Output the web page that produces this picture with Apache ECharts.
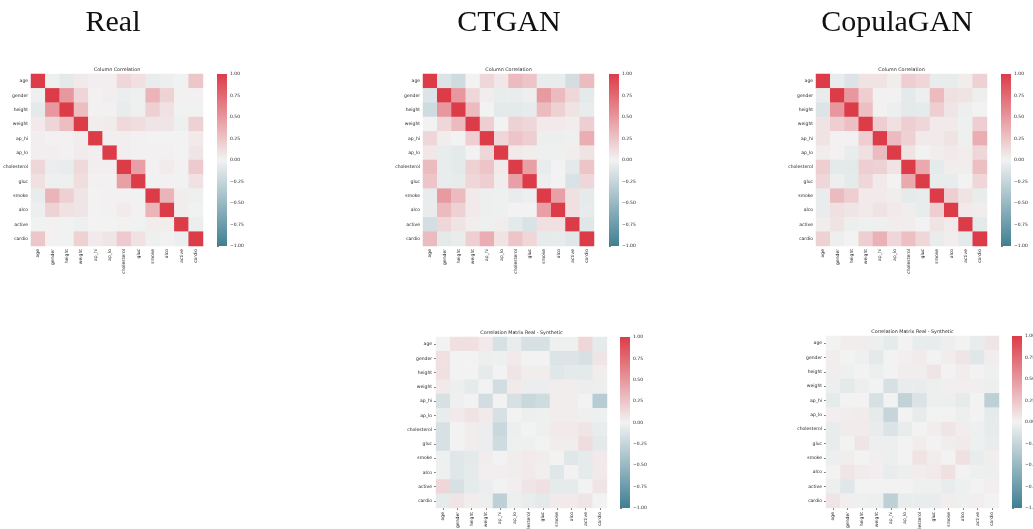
<!DOCTYPE html>
<html>
<head>
<meta charset="utf-8">
<script src="https://cdn.jsdelivr.net/npm/echarts@6/dist/echarts.min.js"></script>
<style>
  html, body { margin: 0; padding: 0; background: #ffffff; }
  #chart { width: 1033px; height: 529px; }
</style>
</head>
<body>
<div id="chart"></div>
<script>
// Feature names of the cardio dataset
const features = ['age', 'gender', 'height', 'weight', 'ap_hi', 'ap_lo',
  'cholesterol', 'gluc', 'smoke', 'alco', 'active', 'cardio'];

const colorbarTicks = [-1, -0.75, -0.5, -0.25, 0, 0.25, 0.5, 0.75, 1];

// Correlations of the real data
const realCorr = [
  [ 1.00, -0.02, -0.08,  0.05,  0.02,  0.02,  0.15,  0.10, -0.05, -0.03, -0.01,  0.24],
  [-0.02,  1.00,  0.50,  0.16,  0.01,  0.02, -0.04, -0.02,  0.34,  0.17,  0.01,  0.01],
  [-0.08,  0.50,  1.00,  0.29,  0.01,  0.01, -0.05, -0.02,  0.19,  0.09, -0.01, -0.01],
  [ 0.05,  0.16,  0.29,  1.00,  0.03,  0.04,  0.14,  0.11,  0.07,  0.07, -0.02,  0.18],
  [ 0.02,  0.01,  0.01,  0.03,  1.00,  0.02,  0.02,  0.01,  0.00,  0.00,  0.00,  0.05],
  [ 0.02,  0.02,  0.01,  0.04,  0.02,  1.00,  0.02,  0.01,  0.01,  0.01,  0.00,  0.07],
  [ 0.15, -0.04, -0.05,  0.14,  0.02,  0.02,  1.00,  0.45,  0.01,  0.04,  0.01,  0.22],
  [ 0.10, -0.02, -0.02,  0.11,  0.01,  0.01,  0.45,  1.00, -0.01,  0.01, -0.01,  0.09],
  [-0.05,  0.34,  0.19,  0.07,  0.00,  0.01,  0.01, -0.01,  1.00,  0.34,  0.03, -0.02],
  [-0.03,  0.17,  0.09,  0.07,  0.00,  0.01,  0.04,  0.01,  0.34,  1.00,  0.03, -0.01],
  [-0.01,  0.01, -0.01, -0.02,  0.00,  0.00,  0.01, -0.01,  0.03,  0.03,  1.00, -0.04],
  [ 0.24,  0.01, -0.01,  0.18,  0.05,  0.07,  0.22,  0.09, -0.02, -0.01, -0.04,  1.00]
];

// Correlations of the CTGAN synthetic data
const ctganCorr = [
  [ 1.00, -0.12, -0.20,  0.00,  0.15,  0.06,  0.30,  0.25, -0.05, -0.05, -0.17,  0.30],
  [-0.12,  1.00,  0.50,  0.15,  0.03, -0.05, -0.05, -0.03,  0.48,  0.30,  0.15, -0.08],
  [-0.20,  0.50,  1.00,  0.30,  0.00, -0.08, -0.08, -0.06,  0.30,  0.18,  0.08, -0.05],
  [ 0.00,  0.15,  0.30,  1.00,  0.20,  0.00,  0.18,  0.15,  0.05,  0.05,  0.03,  0.20],
  [ 0.15,  0.03,  0.00,  0.20,  1.00,  0.15,  0.25,  0.20, -0.03, -0.03, -0.02,  0.38],
  [ 0.06, -0.05, -0.08,  0.00,  0.15,  1.00,  0.05,  0.03, -0.02, -0.02,  0.03,  0.08],
  [ 0.30, -0.05, -0.08,  0.18,  0.25,  0.05,  1.00,  0.45, -0.05,  0.00, -0.08,  0.25],
  [ 0.25, -0.05, -0.06,  0.15,  0.20,  0.03,  0.45,  1.00, -0.03,  0.00, -0.14,  0.15],
  [-0.05,  0.48,  0.30,  0.05, -0.03, -0.02, -0.05, -0.03,  1.00,  0.45,  0.10, -0.07],
  [-0.05,  0.30,  0.18,  0.05, -0.03, -0.02,  0.00,  0.00,  0.45,  1.00,  0.10, -0.06],
  [-0.17,  0.15,  0.08,  0.03, -0.02,  0.03, -0.08, -0.14,  0.10,  0.10,  1.00, -0.10],
  [ 0.30, -0.08, -0.05,  0.20,  0.38,  0.08,  0.25,  0.15, -0.07, -0.06, -0.10,  1.00]
];

// Correlations of the CopulaGAN synthetic data
const copulaCorr = [
  [ 1.00, -0.05, -0.12,  0.08,  0.08,  0.03,  0.20,  0.15, -0.05, -0.05,  0.03,  0.18],
  [-0.05,  1.00,  0.50,  0.20,  0.01,  0.01, -0.08, -0.03,  0.30,  0.10,  0.08, -0.03],
  [-0.12,  0.50,  1.00,  0.28,  0.01, -0.03, -0.08, -0.07,  0.20,  0.07, -0.03,  0.00],
  [ 0.08,  0.20,  0.28,  1.00,  0.20,  0.10,  0.20,  0.15,  0.05,  0.05, -0.02,  0.20],
  [ 0.08,  0.01,  0.01,  0.20,  1.00,  0.30,  0.18,  0.05,  0.05,  0.08, -0.02,  0.38],
  [ 0.03,  0.01, -0.05,  0.10,  0.30,  1.00,  0.08,  0.00,  0.03,  0.05,  0.03,  0.15],
  [ 0.20, -0.08, -0.08,  0.20,  0.18,  0.08,  1.00,  0.40, -0.07,  0.03,  0.03,  0.28],
  [ 0.15, -0.03, -0.07,  0.15,  0.05,  0.00,  0.40,  1.00, -0.05, -0.05,  0.00,  0.15],
  [-0.05,  0.30,  0.20,  0.05,  0.05,  0.03, -0.07, -0.05,  1.00,  0.20,  0.08, -0.05],
  [-0.05,  0.10,  0.07,  0.05,  0.08,  0.05,  0.03, -0.05,  0.20,  1.00,  0.05,  0.03],
  [ 0.03,  0.08, -0.03, -0.02, -0.02,  0.03,  0.03,  0.00,  0.08,  0.05,  1.00, -0.08],
  [ 0.18, -0.03,  0.00,  0.20,  0.35,  0.15,  0.28,  0.15, -0.05,  0.03, -0.08,  1.00]
];

// Real minus CTGAN correlations
const ctganDiff = [
  [ 0.00,  0.10,  0.10,  0.05, -0.15, -0.05, -0.15, -0.15, -0.02, -0.02,  0.15, -0.07],
  [ 0.10,  0.00,  0.00, -0.03, -0.02,  0.05,  0.00,  0.00, -0.12, -0.12, -0.15,  0.07],
  [ 0.10,  0.00,  0.00, -0.07,  0.00,  0.07,  0.03,  0.03, -0.10, -0.08, -0.08,  0.03],
  [ 0.05, -0.03, -0.07,  0.00, -0.18,  0.05, -0.04, -0.04,  0.03,  0.03, -0.04, -0.03],
  [-0.15, -0.02,  0.00, -0.18,  0.00, -0.15, -0.23, -0.20,  0.03,  0.03,  0.00, -0.33],
  [-0.05,  0.05,  0.08,  0.05, -0.15,  0.00, -0.03, -0.02,  0.03,  0.03, -0.02, -0.02],
  [-0.15,  0.00,  0.03, -0.04, -0.23, -0.03,  0.00, -0.02,  0.05,  0.05,  0.07, -0.05],
  [-0.15,  0.00,  0.03, -0.04, -0.20, -0.02, -0.02,  0.00,  0.03,  0.03,  0.12, -0.08],
  [-0.02, -0.10, -0.08,  0.03,  0.00,  0.03,  0.05,  0.03,  0.00, -0.10, -0.07,  0.05],
  [-0.02, -0.10, -0.07,  0.02,  0.02,  0.03,  0.05,  0.02, -0.10,  0.00, -0.07,  0.05],
  [ 0.15, -0.15, -0.07, -0.04,  0.00,  0.02,  0.07,  0.10, -0.07, -0.07,  0.00,  0.07],
  [-0.07,  0.07,  0.03, -0.03, -0.30, -0.03, -0.05, -0.08,  0.05,  0.05,  0.07,  0.00]
];

// Real minus CopulaGAN correlations
const copulaDiff = [
  [ 0.00,  0.03,  0.03, -0.03, -0.07,  0.00, -0.05, -0.05, -0.03,  0.00, -0.05,  0.07],
  [ 0.03,  0.00, -0.02, -0.08,  0.00,  0.02,  0.04,  0.00,  0.03,  0.07, -0.10,  0.03],
  [ 0.03, -0.02,  0.00, -0.03,  0.00,  0.03,  0.03,  0.07,  0.00,  0.03,  0.00, -0.02],
  [-0.03, -0.08, -0.03,  0.00, -0.15, -0.05, -0.05, -0.03,  0.02,  0.02,  0.02, -0.03],
  [-0.07,  0.00,  0.00, -0.15,  0.00, -0.27, -0.13, -0.03, -0.03, -0.07,  0.00, -0.30],
  [ 0.02,  0.03,  0.04, -0.07, -0.25,  0.00, -0.06,  0.00,  0.00, -0.03,  0.00, -0.07],
  [-0.05,  0.04,  0.04, -0.05, -0.13, -0.05,  0.00,  0.03,  0.07,  0.03, -0.02, -0.06],
  [-0.05,  0.00,  0.07, -0.03, -0.03,  0.00,  0.03,  0.00,  0.03,  0.05, -0.02, -0.05],
  [-0.03,  0.03,  0.00,  0.02, -0.03,  0.00,  0.08,  0.03,  0.00,  0.10, -0.05,  0.03],
  [ 0.00,  0.07,  0.04,  0.02, -0.05, -0.03,  0.03,  0.05,  0.10,  0.00, -0.02, -0.03],
  [-0.03, -0.10,  0.00,  0.00,  0.00,  0.00, -0.02, -0.02, -0.05, -0.02,  0.00,  0.02],
  [ 0.07,  0.02, -0.02, -0.03, -0.30, -0.05, -0.05, -0.05,  0.03, -0.02,  0.02,  0.00]
];

const COLOR_NEG = '#3f7f93';
const COLOR_MID = '#f2f2f2';
const COLOR_POS = '#dc3c48';
const TEXT_COLOR = '#262626';
const LABEL_FONT = 'DejaVu Sans';

// Panel layout: heatmap box and colorbar box for each matrix
const panels = [
  { title: 'Column Correlation', data: realCorr,  grid: { left: 31,  top: 74,  width: 172, height: 172 }, bar: { left: 217,  top: 74,  width: 10, height: 172 }, ticks: false },
  { title: 'Column Correlation', data: ctganCorr, grid: { left: 423, top: 74,  width: 171, height: 172 }, bar: { left: 609,  top: 74,  width: 10, height: 172 }, ticks: false },
  { title: 'Column Correlation', data: copulaCorr, grid: { left: 816, top: 74, width: 171, height: 172 }, bar: { left: 1001, top: 74,  width: 10, height: 172 }, ticks: false },
  { title: 'Correlation Matrix Real - Synthetic', data: ctganDiff,  grid: { left: 436, top: 337, width: 171, height: 171 }, bar: { left: 620,  top: 337, width: 10, height: 171 }, ticks: true },
  { title: 'Correlation Matrix Real - Synthetic', data: copulaDiff, grid: { left: 826, top: 336, width: 173, height: 172 }, bar: { left: 1012, top: 336, width: 10, height: 172 }, ticks: true }
];

const headings = [
  { text: 'Real', x: 113 },
  { text: 'CTGAN', x: 509 },
  { text: 'CopulaGAN', x: 897 }
];

function toCells(matrix) {
  const cells = [];
  matrix.forEach((row, r) => row.forEach((v, c) => cells.push([c, r, v])));
  return cells;
}

function fmtTick(v) {
  const s = Math.abs(v).toFixed(2);
  return v < 0 ? '\u2212' + s : s;
}

const grids = [], xAxes = [], yAxes = [], series = [], graphics = [];

panels.forEach((p, i) => {
  grids.push(Object.assign({ containLabel: false, outerBoundsMode: 'none' }, p.grid));
  xAxes.push({
    type: 'category', gridIndex: i, data: features, position: 'bottom',
    axisLine: { show: false },
    axisTick: { show: p.ticks, length: 2, alignWithLabel: true, lineStyle: { color: TEXT_COLOR, width: 0.6 } },
    axisLabel: { rotate: 90, interval: 0, fontSize: 4.5, color: TEXT_COLOR, fontFamily: LABEL_FONT, margin: p.ticks ? 4 : 3 },
    splitLine: { show: false }
  });
  yAxes.push({
    type: 'category', gridIndex: i, data: features, inverse: true,
    axisLine: { show: false },
    axisTick: { show: p.ticks, length: 2, alignWithLabel: true, lineStyle: { color: TEXT_COLOR, width: 0.6 } },
    axisLabel: { interval: 0, fontSize: 4.5, color: TEXT_COLOR, fontFamily: LABEL_FONT, margin: p.ticks ? 4 : 3 },
    splitLine: { show: false }
  });
  series.push({
    type: 'heatmap', xAxisIndex: i, yAxisIndex: i,
    data: toCells(p.data),
    itemStyle: { borderWidth: 0 },
    emphasis: { disabled: true },
    silent: true
  });
  // panel subtitle, centred over the heatmap
  graphics.push({
    type: 'text', x: p.grid.left + p.grid.width / 2, y: p.grid.top - 2,
    style: { text: p.title, fontSize: 4.8, fontFamily: LABEL_FONT, fill: TEXT_COLOR, align: 'center', verticalAlign: 'bottom' }
  });
});

// Colorbars: one grid each, value axis on the right from -1 to 1
panels.forEach((p, i) => {
  const gi = panels.length + i;
  grids.push(Object.assign({ containLabel: false, outerBoundsMode: 'none' }, p.bar));
  xAxes.push({ type: 'value', gridIndex: gi, min: 0, max: 1, show: false });
  yAxes.push({
    type: 'value', gridIndex: gi, min: -1, max: 1, interval: 0.25, position: 'right',
    axisLine: { show: false },
    axisTick: { show: true, length: 2, lineStyle: { color: TEXT_COLOR, width: 0.6 } },
    axisLabel: { fontSize: 4.5, color: TEXT_COLOR, fontFamily: LABEL_FONT, margin: 3, formatter: fmtTick },
    splitLine: { show: false }
  });
  series.push({
    type: 'custom', xAxisIndex: gi, yAxisIndex: gi, silent: true,
    data: [[0, -1, 1, 1]],
    renderItem: function (params, api) {
      const p0 = api.coord([api.value(0), api.value(2)]);
      const p1 = api.coord([api.value(3), api.value(1)]);
      return {
        type: 'rect',
        shape: { x: p0[0], y: p0[1], width: p1[0] - p0[0], height: p1[1] - p0[1] },
        style: {
          fill: new echarts.graphic.LinearGradient(0, 0, 0, 1, [
            { offset: 0, color: COLOR_POS },
            { offset: 0.5, color: COLOR_MID },
            { offset: 1, color: COLOR_NEG }
          ])
        }
      };
    }
  });
});

headings.forEach(h => {
  graphics.push({
    type: 'text', x: h.x, y: 23,
    style: { text: h.text, fontSize: 30, fontFamily: 'Liberation Serif', fill: '#111111', align: 'center', verticalAlign: 'middle' }
  });
});

const chart = echarts.init(document.getElementById('chart'), null, { renderer: 'canvas' });
chart.setOption({
  backgroundColor: '#ffffff',
  animation: false,
  grid: grids,
  xAxis: xAxes,
  yAxis: yAxes,
  visualMap: {
    type: 'continuous', show: false, min: -1, max: 1,
    seriesIndex: [0, 1, 2, 3, 4],
    inRange: { color: [COLOR_NEG, COLOR_MID, COLOR_POS] }
  },
  graphic: graphics,
  series: series
});
</script>
</body>
</html>
